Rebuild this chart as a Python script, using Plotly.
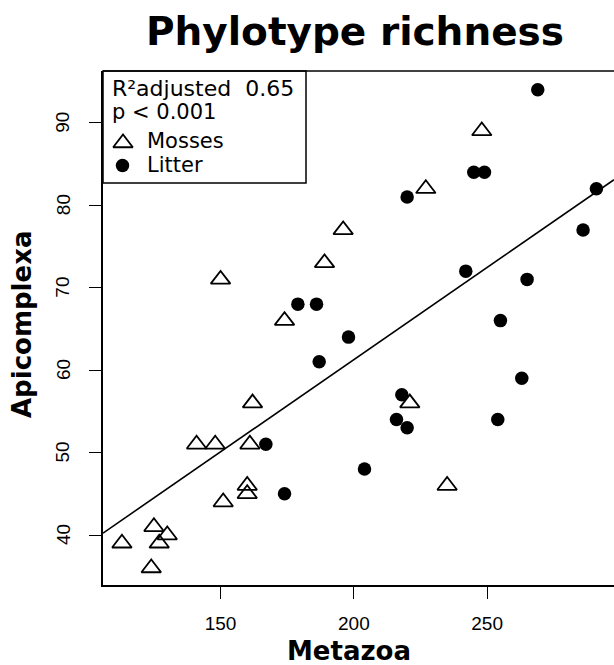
import plotly.graph_objects as go

# ---- data ----
moss_metazoa = [113, 124, 125, 127, 130, 141, 148, 151, 160, 160, 161, 162, 174, 150, 189, 196, 227, 248, 221, 235]
moss_apicomplexa = [39, 36, 41, 39, 40, 51, 51, 44, 46, 45, 51, 56, 66, 71, 73, 77, 82, 89, 56, 46]

litter_metazoa = [167, 174, 179, 186, 187, 198, 204, 216, 218, 220, 220, 242, 245, 249, 254, 255, 263, 265, 269, 286, 291]
litter_apicomplexa = [51, 45, 68, 68, 61, 64, 48, 54, 57, 53, 81, 72, 84, 84, 54, 66, 59, 71, 94, 77, 82]

fit_intercept = 16.55
fit_slope = 0.2236

x_ticks = [150, 200, 250]
y_ticks = [40, 50, 60, 70, 80, 90]

title_text = "Phylotype richness"
x_label = "Metazoa"
y_label = "Apicomplexa"
stat_lines = ["R²adjusted&nbsp; 0.65", "p < 0.001"]
legend_names = ["Mosses", "Litter"]

# ---- layout geometry ----
W, H = 614, 665
ML, MR, MT, MB = 103, 0, 71, 80
PW, PH = W - ML - MR, H - MT - MB
x_range = [105.9, 297.6]
y_range = [33.94, 96.27]


def px_x(p):
    return (p - ML) / PW


def px_y(p):
    return (H - MB - p) / PH


fig = go.Figure()

# regression line (abline across the plot)
fig.add_trace(go.Scatter(
    x=x_range,
    y=[fit_intercept + fit_slope * v for v in x_range],
    mode="lines", line=dict(color="black", width=1.6),
    showlegend=False, hoverinfo="skip", cliponaxis=True))

tri_marker = dict(symbol="triangle-up-open", size=17, color="black", line=dict(width=1.8, color="black"))
dot_marker = dict(symbol="circle", size=13.5, color="black", line=dict(width=0))

fig.add_trace(go.Scatter(
    x=moss_metazoa, y=moss_apicomplexa, mode="markers", name=legend_names[0],
    marker=tri_marker, showlegend=False))

fig.add_trace(go.Scatter(
    x=litter_metazoa, y=litter_apicomplexa, mode="markers", name=legend_names[1],
    marker=dot_marker, showlegend=False))

# legend box (top-left, like R legend)
fig.add_shape(type="rect", xref="paper", yref="paper",
              x0=px_x(ML), x1=px_x(306), y0=px_y(183), y1=px_y(MT),
              fillcolor="white", line=dict(color="black", width=1.5), layer="below")

# legend glyphs on an overlay pixel axis
fig.add_trace(go.Scatter(
    x=[20], y=[H - MB - 143], xaxis="x2", yaxis="y2", mode="markers",
    marker=tri_marker, showlegend=False, hoverinfo="skip"))
fig.add_trace(go.Scatter(
    x=[19.5], y=[H - MB - 165.5], xaxis="x2", yaxis="y2", mode="markers",
    marker=dot_marker, showlegend=False, hoverinfo="skip"))

text_rows = [
    (stat_lines[0], 110, 88.5, 22),
    (stat_lines[1], 110, 112, 21),
    (legend_names[0], 145, 141, 21),
    (legend_names[1], 145, 165, 21),
]
for txt, xp, yp, fs in text_rows:
    fig.add_annotation(text=txt, xref="paper", yref="paper", x=px_x(xp), y=px_y(yp),
                       xanchor="left", yanchor="middle", showarrow=False,
                       font=dict(family="DejaVu Sans", size=fs, color="black"))

# top border of the box
fig.add_shape(type="line", xref="paper", yref="paper", x0=0, x1=1, y0=1, y1=1,
              line=dict(color="black", width=1.5))

# y tick labels (rotated, parallel to the axis as in base R)
tick_font = dict(family="Liberation Sans", size=19, color="black")
for v in y_ticks:
    fig.add_annotation(text=str(v), xref="paper", yref="y", x=px_x(63), y=v,
                       xanchor="center", yanchor="middle", textangle=-90,
                       showarrow=False, font=tick_font)

# axis titles
fig.add_annotation(text=f"<b>{x_label}</b>", xref="paper", yref="paper",
                   x=px_x(349), y=px_y(651), xanchor="center", yanchor="middle",
                   showarrow=False, font=dict(family="DejaVu Sans", size=26, color="black"))
fig.add_annotation(text=f"<b>{y_label}</b>", xref="paper", yref="paper",
                   x=px_x(22), y=px_y(325), xanchor="center", yanchor="middle", textangle=-90,
                   showarrow=False, font=dict(family="DejaVu Sans", size=26, color="black"))

axis_common = dict(showgrid=False, zeroline=False, showline=True, linecolor="black", linewidth=1.5,
                   ticks="outside", ticklen=12, tickwidth=1.3, tickcolor="black",
                   tickfont=tick_font)

fig.update_layout(
    width=W, height=H,
    margin=dict(l=ML, r=MR, t=MT, b=MB, autoexpand=False),
    paper_bgcolor="white", plot_bgcolor="white",
    title=dict(text=f"<b>{title_text}</b>", x=355 / W, xanchor="center",
               y=1 - 31 / H, yanchor="middle",
               font=dict(family="DejaVu Sans", size=39, color="black")),
    xaxis=dict(range=x_range, tickvals=x_ticks, ticklabelstandoff=8, **axis_common),
    yaxis=dict(range=y_range, tickvals=y_ticks, showticklabels=False, **axis_common),
    xaxis2=dict(range=[0, PW], overlaying="x", visible=False, fixedrange=True),
    yaxis2=dict(range=[0, PH], overlaying="y", visible=False, fixedrange=True),
    showlegend=False,
)

fig.write_html("out.html", config={"displayModeBar": False},
               post_script="document.body.style.margin='0';document.body.style.overflow='hidden';")
